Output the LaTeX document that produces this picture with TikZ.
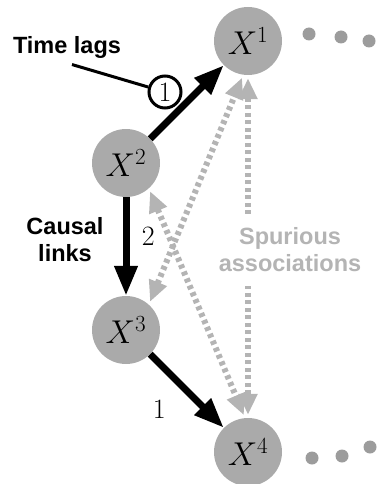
\RequirePackage{fix-cm}
\documentclass[tikz,border=0pt]{standalone}
\usepackage{fontspec}
\setsansfont{Liberation Sans}
\usepackage{tikz}
\usetikzlibrary{arrows.meta, positioning}
\definecolor{nodegray}{RGB}{170,170,170}
\definecolor{spurgray}{RGB}{180,180,180}

\begin{document}
\begin{tikzpicture}[
    x=1pt, y=-1pt,
    varnode/.style={
        circle,
        fill=nodegray,
        minimum size=68pt,
        inner sep=0pt,
        font=\fontsize{33}{40}\selectfont
    },
    notetext/.style={
        align=center,
        font=\sffamily\bfseries\fontsize{23.5}{27}\selectfont
    },
    lagnum/.style={
        font=\fontsize{28}{32}\selectfont
    },
    causal/.style={
        -{Triangle[length=30pt, width=22pt]},
        line width=7pt,
        black
    },
    spurious/.style={
        {Triangle[length=21pt, width=18pt]}-{Triangle[length=21pt, width=18pt]},
        line width=6pt,
        dash pattern=on 4pt off 3.5pt,
        shorten <=3pt, shorten >=3pt,
        spurgray
    },
    taildot/.style={
        fill=nodegray!92!black
    }
]
\useasboundingbox (0,0) rectangle (376,484);

% Variables
\node[varnode] (x1) at (248,41) {$X^1$};
\node[varnode] (x2) at (126,163) {$X^2$};
\node[varnode] (x3) at (126,330) {$X^3$};
\node[varnode] (x4) at (248,452) {$X^4$};

% Trailing dots
\foreach \px/\py in {309/34, 341/37, 369/41, 312/458, 342/456, 370/447}
    \fill[taildot] (\px,\py) circle (6.5pt);

% Spurious associations (grey, both ways)
\draw[spurious] (x2.-48) -- (x4.95);
\draw[spurious] (x3.48) -- (x1.262);
\draw[spurious] (x1.south) -- (x4.north);
\node[notetext, text=spurgray, fill=white, inner xsep=1pt, inner ysep=14pt] (spur) at (290,250) {Spurious\\associations};

% Causal links
\draw[causal] (x2) -- (x1);
\draw[causal] (x2) -- node[pos=0.4, right=9pt, lagnum] (lag2) {2} (x3);
\draw[causal] (x3) -- node[pos=0.44, below left=7pt and 10pt, lagnum] (lag1) {1} (x4);

% Annotations
\node[notetext] (lagtext) at (67,47) {Time lags};
\node[notetext] (causaltext) at (65,240) {Causal\\links};
\node[draw, circle, line width=3pt, minimum size=32pt, inner sep=0pt, lagnum] (lag) at (165,92) {1};
\draw[line width=3pt] ([xshift=5pt, yshift=-3pt]lagtext.south) -- (lag);

\end{tikzpicture}
\end{document}
